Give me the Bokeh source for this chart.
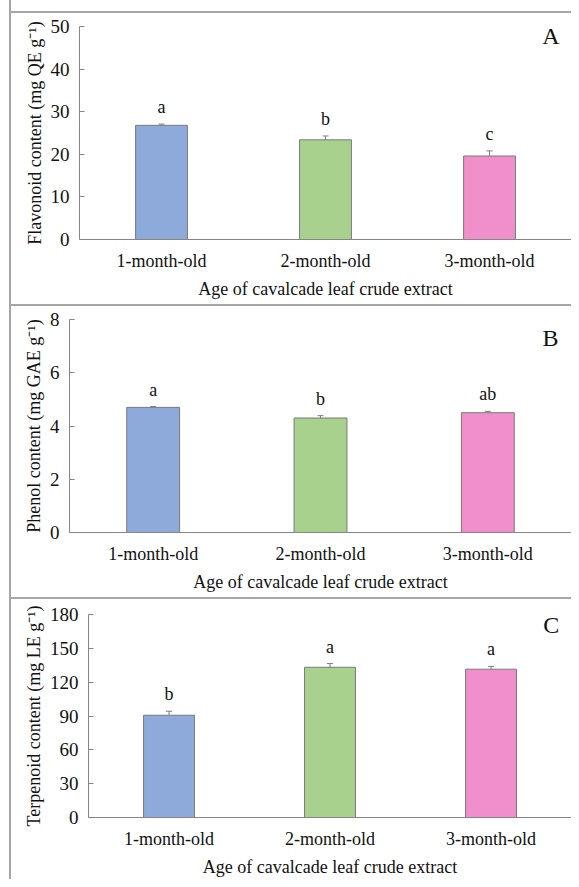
from bokeh.plotting import figure
from bokeh.models import (Range1d, FixedTicker, ColumnDataSource, Whisker, TeeHead,
                          LabelSet, Label, Spacer)
from bokeh.layouts import column, row
from bokeh.embed import file_html
from bokeh.resources import INLINE

# ---------------- data ----------------
categories = ["1-month-old", "2-month-old", "3-month-old"]
bar_colors = ["#8eaadb", "#a9d18e", "#f18fca"]
x_title = "Age of cavalcade leaf crude extract"

flavonoid = [26.8, 23.4, 19.6]
flavonoid_err = [0.3, 0.9, 1.2]
flavonoid_letters = ["a", "b", "c"]
flavonoid_ticks = [0, 10, 20, 30, 40, 50]

phenol = [4.7, 4.3, 4.5]
phenol_err = [0.03, 0.09, 0.05]
phenol_letters = ["a", "b", "ab"]
phenol_ticks = [0, 2, 4, 6, 8]

terpenoid = [90.7, 133.2, 131.5]
terpenoid_err = [3.5, 3.3, 2.5]
terpenoid_letters = ["b", "a", "a"]
terpenoid_ticks = [0, 30, 60, 90, 120, 150, 180]

FONT = "Liberation Serif"
AXIS_GRAY = "#868686"
BORDER_GRAY = "#a6a6a6"
W = 560
WF = 559


def sep(w, h):
    return Spacer(width=w, height=h, styles={"background-color": BORDER_GRAY})


def panel(values, errs, letters, ticks, ylabel, tag, tag_y, height,
          b_top, b_bottom, b_left):
    xs = [i + 0.5 for i in range(len(categories))]
    p = figure(width=WF, height=height, output_backend="svg", toolbar_location=None,
               x_range=Range1d(0, len(categories)), y_range=Range1d(ticks[0], ticks[-1]),
               min_border_top=b_top, min_border_bottom=b_bottom,
               min_border_left=b_left, min_border_right=0)
    p.outline_line_color = None
    p.grid.visible = False
    p.background_fill_color = "white"
    p.border_fill_color = "white"

    src = ColumnDataSource(dict(
        x=xs, top=values, color=bar_colors,
        lower=[v - e for v, e in zip(values, errs)],
        upper=[v + e for v, e in zip(values, errs)],
        letters=letters))

    p.vbar(x="x", top="top", width=0.316, fill_color="color",
           line_color="#7a7a7a", line_width=1, source=src)

    w = Whisker(base="x", lower="lower", upper="upper", source=src,
                line_color="#7f7f7f", line_width=1,
                upper_head=TeeHead(size=6, line_color="#7f7f7f", line_width=1),
                lower_head=TeeHead(size=6, line_color="#7f7f7f", line_width=1))
    p.add_layout(w)

    p.add_layout(LabelSet(x="x", y="upper", text="letters", source=src,
                          text_align="center", text_baseline="alphabetic",
                          y_offset=11, text_font=FONT, text_font_size="18px",
                          text_color="#111111"))

    p.add_layout(Label(x=2.875, y=tag_y, text=tag, text_align="center",
                       text_baseline="middle", text_font=FONT,
                       text_font_size="24px", text_color="#111111"))

    # x axis
    xa = p.xaxis[0]
    xa.ticker = FixedTicker(ticks=xs)
    xa.major_label_overrides = {x: c for x, c in zip(xs, categories)}
    xa.major_tick_in = 0
    xa.major_tick_out = 0
    xa.minor_tick_line_color = None
    xa.axis_line_color = AXIS_GRAY
    xa.major_label_text_font = FONT
    xa.major_label_text_font_size = "18px"
    xa.major_label_text_color = "#111111"
    xa.major_label_standoff = 11
    xa.axis_label = x_title
    xa.axis_label_text_font = FONT
    xa.axis_label_text_font_size = "18px"
    xa.axis_label_text_font_style = "normal"
    xa.axis_label_text_color = "#111111"
    xa.axis_label_standoff = 5

    # y axis
    ya = p.yaxis[0]
    ya.ticker = FixedTicker(ticks=ticks)
    ya.major_tick_in = 5
    ya.major_tick_out = 0
    ya.major_tick_line_color = AXIS_GRAY
    ya.minor_tick_line_color = None
    ya.axis_line_color = AXIS_GRAY
    ya.major_label_text_font = FONT
    ya.major_label_text_font_size = "19px"
    ya.major_label_text_color = "#111111"
    ya.major_label_standoff = 10
    ya.axis_label = ylabel
    ya.axis_label_text_font = FONT
    ya.axis_label_text_font_size = "18px"
    ya.axis_label_text_font_style = "normal"
    ya.axis_label_text_color = "#111111"
    ya.axis_label_standoff = 3
    return p


pA = panel(flavonoid, flavonoid_err, flavonoid_letters, flavonoid_ticks,
           "Flavonoid content (mg QE g\u207b\u00b9)", "A", 47.7, 291, 13, 65, 67)
pB = panel(phenol, phenol_err, phenol_letters, phenol_ticks,
           "Phenol content (mg GAE g\u207b\u00b9)", "B", 7.32, 291, 13, 65, 57)
pC = panel(terpenoid, terpenoid_err, terpenoid_letters, terpenoid_ticks,
           "Terpenoid content (mg LE g\u207b\u00b9)", "C", 170.6, 280, 15, 53, 76)

col = column(Spacer(width=W, height=11), sep(W, 2),
             row(Spacer(width=1, height=291), pA, spacing=0), sep(W, 2),
             row(Spacer(width=1, height=291), pB, spacing=0), sep(W, 2),
             row(Spacer(width=1, height=280), pC, spacing=0),
             spacing=0)
layout = row(Spacer(width=9, height=879), sep(2, 879), col, spacing=0)

open("out.html", "w").write(file_html(layout, INLINE))
